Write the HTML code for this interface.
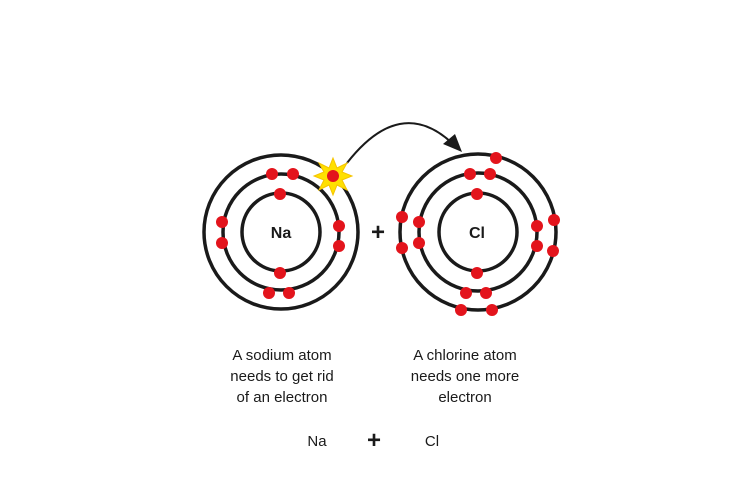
<!DOCTYPE html>
<html><head><style>
body{margin:0;background:#fff}
svg{display:block}
text{font-family:"Liberation Sans",sans-serif}
</style></head><body>
<svg width="750" height="500" viewBox="0 0 750 500">
<defs><marker id="ah" markerWidth="10" markerHeight="10" refX="8" refY="5" orient="auto" markerUnits="userSpaceOnUse"><path d="M0,0 L18,5 L0,10 Z" fill="#1a1a1a" transform="scale(0.55,1)"/></marker></defs>
<g fill="none" stroke="#1a1a1a" stroke-width="3.5">
<circle cx="281" cy="232" r="39"/><circle cx="281" cy="232" r="58"/><circle cx="281" cy="232" r="77"/>
<circle cx="478" cy="232" r="39"/><circle cx="478" cy="232" r="59"/><circle cx="478" cy="232" r="78"/>
</g>
<path d="M347,163 Q400,95 452,143" fill="none" stroke="#1a1a1a" stroke-width="2"/>
<path d="M462,152 L443,144 L455,134 Z" fill="#1a1a1a"/>
<polygon points="333,158 337,168 347,163 342,172 352,176 342,180 347,190 337,185 333,195 329,185 319,190 324,180 314,176 324,172 319,163 329,168" fill="#ffe000" stroke="#f5c400" stroke-width="1"/>
<g fill="#e3141c">
<circle cx="333" cy="176" r="6"/>
<circle cx="280" cy="194" r="6"/><circle cx="280" cy="273" r="6"/>
<circle cx="272" cy="174" r="6"/><circle cx="293" cy="174" r="6"/>
<circle cx="222" cy="222" r="6"/><circle cx="222" cy="243" r="6"/>
<circle cx="339" cy="226" r="6"/><circle cx="339" cy="246" r="6"/>
<circle cx="269" cy="293" r="6"/><circle cx="289" cy="293" r="6"/>
<circle cx="477" cy="194" r="6"/><circle cx="477" cy="273" r="6"/>
<circle cx="470" cy="174" r="6"/><circle cx="490" cy="174" r="6"/>
<circle cx="419" cy="222" r="6"/><circle cx="419" cy="243" r="6"/>
<circle cx="537" cy="226" r="6"/><circle cx="537" cy="246" r="6"/>
<circle cx="466" cy="293" r="6"/><circle cx="486" cy="293" r="6"/>
<circle cx="496" cy="158" r="6"/>
<circle cx="402" cy="217" r="6"/><circle cx="402" cy="248" r="6"/>
<circle cx="554" cy="220" r="6"/><circle cx="553" cy="251" r="6"/>
<circle cx="461" cy="310" r="6"/><circle cx="492" cy="310" r="6"/>
</g>
<g font-weight="bold" font-size="16" fill="#1a1a1a" text-anchor="middle">
<text x="281" y="238">Na</text><text x="477" y="238">Cl</text>
<text x="378" y="240" font-size="24">+</text>
</g>
<g font-size="15" fill="#1a1a1a" text-anchor="middle">
<text x="282" y="360">A sodium atom</text>
<text x="282" y="381">needs to get rid</text>
<text x="282" y="402">of an electron</text>
<text x="465" y="360">A chlorine atom</text>
<text x="465" y="381">needs one more</text>
<text x="465" y="402">electron</text>
<text x="317" y="446">Na</text>
<text x="432" y="446">Cl</text>
<text x="374" y="448" font-size="24" font-weight="bold">+</text>
</g>
</svg>
</body></html>
